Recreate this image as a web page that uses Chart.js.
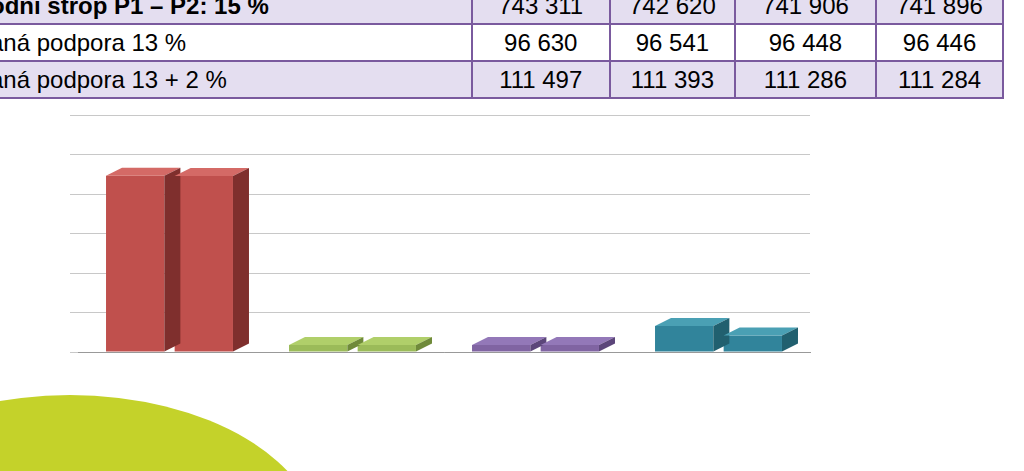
<!DOCTYPE html><html><head><meta charset="utf-8">
<script src="https://cdn.jsdelivr.net/npm/chart.js@4"></script>
<style>
body{margin:0;width:1024px;height:471px;overflow:hidden;background:#fff;font-family:"Liberation Sans",Arial,sans-serif;position:relative}
table{position:absolute;left:-20px;top:-14px;border-collapse:collapse;font-size:24px}
td{border:2px solid #7a5a9e;height:35px;padding:0 8px}
td.n{text-align:center}
tr.a{background:#e4def0}
#c{position:absolute;left:40px;top:100px}
#blob{position:absolute;left:-180px;top:395px;width:500px;height:300px;border-radius:50%;background:#c4d22a}
</style></head><body>
<div id="blob"></div>
<table id="t"></table>
<canvas id="c" width="790" height="290"></canvas>
<script>
const rowLabels=["odní strop P1 – P2: 15 %","aná podpora 13 %","aná podpora 13 + 2 %"];
const rowValues=[["743 311","742 620","741 906","741 896"],["96 630","96 541","96 448","96 446"],["111 497","111 393","111 286","111 284"]];
const categories=["A","B","C","D"];
const frontValues=[743311,30000,30000,110000];
const backValues=[742620,30000,30000,70000];
const colors=["#c0504d","#9bbb59","#8064a2","#31849b"];
const dark=["#7f2f2d","#6f8a3a","#5c467a","#21606f"];
const light=["#d46a66","#b0cf6a","#9378b8","#4aa0b4"];
const widths=[490,142,128,145,130];
const t=document.getElementById('t');
rowLabels.forEach((l,i)=>{const tr=document.createElement('tr');if(i!==1)tr.className='a';
tr.innerHTML='<td style="width:'+widths[0]+'px;'+(i==0?'font-weight:bold':'')+'">'+l+'</td>'+rowValues[i].map((v,j)=>'<td class="n" style="width:'+(widths[j+1]-18)+'px">'+v+'</td>').join('');t.appendChild(tr);});
const depth={id:'depth',afterDatasetsDraw(ch){const c=ch.ctx;
ch.data.datasets.forEach((ds,di)=>{ch.getDatasetMeta(di).data.forEach((b,i)=>{
const w=b.width,x0=b.x-w/2,x1=b.x+w/2,y=b.y,base=b.base,dx=16,dy=8;
c.fillStyle=light[i];c.beginPath();c.moveTo(x0,y);c.lineTo(x0+dx,y-dy);c.lineTo(x1+dx,y-dy);c.lineTo(x1,y);c.fill();
c.fillStyle=dark[i];c.beginPath();c.moveTo(x1,y);c.lineTo(x1+dx,y-dy);c.lineTo(x1+dx,base-dy);c.lineTo(x1,base);c.fill();});});}};
new Chart(document.getElementById('c'),{type:'bar',data:{labels:categories,datasets:[
{data:frontValues,backgroundColor:colors},{data:backValues,backgroundColor:colors}]},
options:{responsive:false,animation:false,layout:{padding:{top:15,right:20,bottom:30,left:30}},
plugins:{legend:{display:false},tooltip:{enabled:false}},
scales:{x:{ticks:{display:false},grid:{display:false},border:{color:'#999'}},
y:{min:0,max:1000000,ticks:{display:false,stepSize:166667},grid:{color:'#c8c8c8'},border:{display:false}}},
datasets:{bar:{categoryPercentage:0.75,barPercentage:0.85}}},plugins:[depth]});
</script></body></html>
